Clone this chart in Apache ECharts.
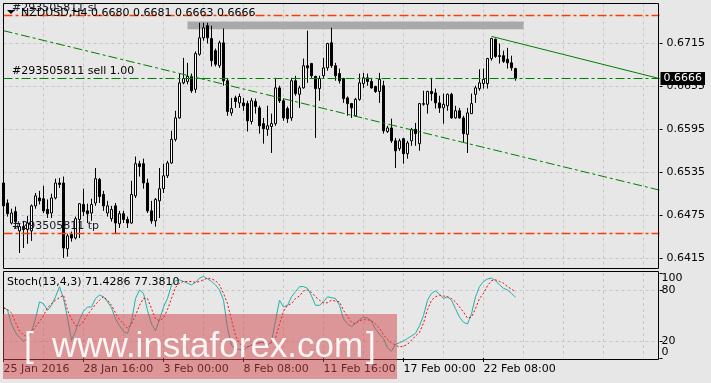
<!DOCTYPE html>
<html><head><meta charset="utf-8">
<script src="https://cdn.jsdelivr.net/npm/echarts@6/dist/echarts.min.js"></script>
<style>html,body{margin:0;padding:0;background:#e7e7e7;}#c{width:711px;height:383px;}</style>
</head><body><div id="c"></div>
<script>
// ---- data (NZDUSD H4) ----
const symbol = 'NZDUSD,H4';
const opens = [.6520,.6492,.6464,.6480,.6453,.6459,.6455,.6453,.6488,.6499,
.6498,.6483,.6478,.6499,.6520,.6520,.6428,.6448,.6443,.6469,
.6490,.6481,.6478,.6492,.6525,.6504,.6478,.6470,.6488,.6463,
.6477,.6469,.6464,.6502,.6547,.6547,.6520,.6481,.6467,.6495,
.6512,.6530,.6548,.6581,.6611,.6660,.6662,.6669,.6651,.6700,
.6723,.6740,.6722,.6705,.6684,.6716,.6663,.6618,.6639,.6632,
.6632,.6631,.6606,.6634,.6625,.6603,.6595,.6599,.6603,.6653,
.6635,.6624,.6611,.6663,.6644,.6653,.6684,.6687,.6669,.6652,
.6670,.6681,.6716,.6684,.6673,.6666,.6639,.6631,.6614,.6637,
.6659,.6667,.6662,.6655,.6648,.6656,.6592,.6597,.6579,.6568,
.6582,.6561,.6579,.6595,.6575,.6630,.6630,.6648,.6646,.6632,
.6625,.6628,.6644,.6611,.6621,.6611,.6588,.6617,.6644,.6652,
.6659,.6659,.6694,.6721,.6698,.6698,.6693,.6688,.6680];
const closes = [.6488,.6477,.6478,.6466,.6459,.6455,.6464,.6488,.6502,.6495,
.6481,.6477,.6499,.6520,.6518,.6429,.6446,.6443,.6470,.6491,
.6480,.6477,.6490,.6526,.6501,.6488,.6488,.6483,.6464,.6477,
.6469,.6464,.6504,.6547,.6543,.6520,.6481,.6467,.6497,.6512,
.6530,.6548,.6581,.6611,.6660,.6666,.6669,.6649,.6701,.6723,
.6737,.6723,.6691,.6686,.6716,.6663,.6620,.6624,.6634,.6641,
.6628,.6607,.6635,.6627,.6600,.6596,.6600,.6603,.6653,.6635,
.6611,.6610,.6663,.6645,.6653,.6684,.6681,.6670,.6652,.6666,
.6681,.6715,.6684,.6670,.6663,.6638,.6631,.6625,.6637,.6660,
.6667,.6662,.6653,.6648,.6665,.6593,.6597,.6579,.6565,.6579,
.6561,.6576,.6595,.6589,.6631,.6631,.6648,.6645,.6632,.6625,
.6630,.6644,.6611,.6621,.6611,.6589,.6618,.6631,.6653,.6660,
.6665,.6694,.6722,.6697,.6697,.6690,.6688,.6681,.6666];
const lows = [.6481,.6473,.6462,.6456,.6422,.6429,.6435,.6439,.6484,.6490,
.6478,.6471,.6471,.6497,.6513,.6415,.6417,.6438,.6441,.6443,
.6474,.6464,.6467,.6488,.6492,.6481,.6473,.6466,.6449,.6457,
.6464,.6457,.6463,.6499,.6529,.6512,.6478,.6463,.6459,.6471,
.6506,.6527,.6547,.6578,.6610,.6658,.6658,.6646,.6646,.6698,
.6719,.6715,.6683,.6683,.6681,.6656,.6614,.6614,.6625,.6625,
.6621,.6592,.6602,.6617,.6589,.6575,.6586,.6562,.6600,.6632,
.6607,.6604,.6607,.6642,.6625,.6652,.6660,.6667,.6583,.6635,
.6667,.6677,.6681,.6663,.6659,.6632,.6614,.6611,.6613,.6635,
.6653,.6656,.6652,.6646,.6632,.6589,.6590,.6576,.6541,.6565,
.6547,.6554,.6572,.6572,.6565,.6628,.6617,.6635,.6624,.6618,
.6603,.6621,.6610,.6610,.6610,.6576,.6562,.6617,.6632,.6649,
.6652,.6652,.6691,.6695,.6687,.6688,.6680,.6677,.6663];
const highs = [.6526,.6497,.6484,.6487,.6464,.6467,.6474,.6490,.6506,.6509,
.6516,.6497,.6505,.6526,.6527,.6529,.6449,.6452,.6473,.6492,
.6512,.6491,.6498,.6541,.6527,.6509,.6495,.6488,.6492,.6481,
.6481,.6473,.6523,.6557,.6551,.6554,.6526,.6495,.6499,.6541,
.6547,.6551,.6593,.6621,.6673,.6695,.6688,.6673,.6704,.6744,
.6744,.6744,.6740,.6708,.6719,.6736,.6666,.6639,.6642,.6645,
.6639,.6635,.6639,.6638,.6628,.6611,.6628,.6617,.6667,.6656,
.6638,.6627,.6667,.6670,.6656,.6694,.6733,.6688,.6670,.6670,
.6695,.6716,.6737,.6688,.6680,.6667,.6641,.6632,.6639,.6673,
.6674,.6673,.6667,.6656,.6674,.6663,.6600,.6610,.6583,.6582,
.6583,.6579,.6597,.6604,.6632,.6649,.6649,.6667,.6652,.6642,
.6645,.6645,.6646,.6628,.6625,.6614,.6625,.6645,.6656,.6679,
.6680,.6695,.6723,.6722,.6715,.6705,.6709,.6698,.6681];
const stochK = [60,56,40,30,24,20,22,31,46,66,
64,56,62,72,84,70,47,21,31,45,
55,60,60,70,74,72,66,59,46,38,
31,29,43,70,80,76,56,40,32,45,
60,70,86,91,92,90,88,86,89,94,
96,93,90,86,80,68,35,15,11,10,
9,13,15,17,18,19,15,19,44,68,
60,62,72,78,84,84,82,73,62,62,
66,72,71,70,62,46,40,37,41,45,
48,47,43,34,28,23,12,8,16,18,
20,23,26,29,38,50,68,76,79,75,
70,72,68,58,48,42,40,52,72,84,
90,93,94,91,86,82,80,76,71.4286];
const stochD = [59,57,53,42,32,27,25,30,37,43,
50,59,64,68,71,74,56,46,38,38,
43,51,57,63,68,72,68,62,53,45,
40,35,40,50,62,70,70,58,46,44,
47,57,70,83,88,90,90,90,89,90,
92,94,93,91,86,76,64,45,26,17,
14,13,15,17,18,18,17,18,23,40,
55,62,64,70,73,79,80,77,72,68,
65,65,68,67,66,56,49,42,40,44,
45,45,44,40,35,27,22,18,15,13,
14,16,21,26,30,41,57,68,72,74,
73,72,70,66,60,54,47,48,58,70,
76,85,91,92,90,88,84,81,77.3810];
const priceTicks = [0.6415,0.6475,0.6535,0.6595,0.6655,0.6715];
const stochTicks = [0,20,80,100];
const stochLevels = [20,80];
const orderId = '#293505811';
const sellPrice = 0.6666, slPrice = 0.6754, tpPrice = 0.6449;
const trendUpper = [[122,0.6725],[164,0.6666]];
const trendLower = [[0,0.6733],[164,0.6510]];
const zoneBox = [[46,0.6746],[130,0.6735]];
const labelEvery = 20, lastLabelIdx = 120, barsShown = 165;

// ---- categories: H4 bars, weekends skipped ----
const MONTHS=['Jan','Feb','Mar','Apr','May','Jun','Jul','Aug','Sep','Oct','Nov','Dec'];
const cats=[]; let t=Date.UTC(2016,0,25,8);
while(cats.length<barsShown){const d=new Date(t);const wd=d.getUTCDay();
 if(wd!==0&&wd!==6){cats.push(d.getUTCDate()+' '+MONTHS[d.getUTCMonth()]+' '+d.getUTCFullYear()+' '+String(d.getUTCHours()).padStart(2,'0')+':00');}
 t+=4*3600e3;}
const candles = opens.map((o,i)=>[o,closes[i],lows[i],highs[i]]);
const n = opens.length-1;
const lastIdx = barsShown-1;
const f4 = v=>v.toFixed(4);
const FONT='"DejaVu Sans"';
const grayGrid={color:'#c6c6c6',type:[3,3],width:1};
const lblInt=(i)=> i%labelEvery===0 && i<=lastLabelIdx;
const dashDot=[9,3,3,3];
const hLine=(p,style,extra)=>[Object.assign({coord:[0,p],lineStyle:style},extra||{}),{coord:[lastIdx,p],lineStyle:style}];

const chart=echarts.init(document.getElementById('c'),null,{renderer:'canvas'});
chart.setOption({
 animation:false,
 backgroundColor:'#e7e7e7',
 textStyle:{fontFamily:FONT},
 grid:[{left:3.5,top:3.5,width:656,height:266},{left:3.5,top:273,width:656,height:85}],
 xAxis:[
  {type:'category',gridIndex:0,data:cats,boundaryGap:false,axisLine:{show:false},axisTick:{show:false},axisLabel:{show:false},
   splitLine:{show:true,interval:9,lineStyle:grayGrid}},
  {type:'category',gridIndex:1,data:cats,boundaryGap:false,axisLine:{show:false},
   axisTick:{show:true,interval:lblInt,length:4,lineStyle:{color:'#000'}},
   axisLabel:{interval:lblInt,align:'left',margin:6,fontSize:11,color:'#000',fontFamily:FONT,hideOverlap:false,
     formatter:(v,i)=>{const p=v.split(' ');return i===0?p[0]+' '+p[1]+' '+p[2]:p[0]+' '+p[1]+' '+p[3];}},
   splitLine:{show:true,interval:9,lineStyle:grayGrid}}
 ],
 yAxis:[
  {type:'value',gridIndex:0,position:'right',min:0.6399,max:0.6771,axisLine:{show:false},
   axisTick:{show:true,customValues:priceTicks,length:3,lineStyle:{color:'#000'}},
   axisLabel:{customValues:priceTicks,formatter:v=>f4(v),margin:7,fontSize:11,color:'#000',fontFamily:FONT},
   splitLine:{show:false}},
  {type:'value',gridIndex:1,position:'right',min:0,max:100,axisLine:{show:false},
   axisTick:{show:true,customValues:stochTicks,length:3,lineStyle:{color:'#000'}},
   axisLabel:{customValues:stochTicks,margin:2,fontSize:11,color:'#000',fontFamily:FONT,
     showMinLabel:true,showMaxLabel:true,hideOverlap:false,
     verticalAlignMinLabel:'bottom',verticalAlignMaxLabel:'top',
     formatter:v=>String(v)},
   splitLine:{show:false}}
 ],
 series:[
  {type:'line',xAxisIndex:0,yAxisIndex:0,data:[],silent:true,
   markLine:{silent:true,symbol:['none','none'],z:1,label:{show:false},
     data:priceTicks.map(v=>hLine(v,grayGrid))}},
  {type:'candlestick',xAxisIndex:0,yAxisIndex:0,data:candles,barWidth:2,
   itemStyle:{color:'#ffffff',color0:'#000000',borderColor:'#000000',borderColor0:'#000000',borderWidth:1},
   markArea:{silent:true,itemStyle:{color:'#a9a9a9'},
     data:[[{coord:zoneBox[0]},{coord:zoneBox[1]}]]},
   markLine:{silent:true,symbol:['none','none'],label:{show:false},
     data:[
      [{coord:trendUpper[0],lineStyle:{color:'#008000',type:'solid',width:1}},{coord:trendUpper[1]}],
      [{coord:trendLower[0],lineStyle:{color:'#008000',type:dashDot,width:1}},{coord:trendLower[1]}],
      hLine(sellPrice,{color:'#008000',type:dashDot,width:1}),
      hLine(slPrice,{color:'#ff3c00',type:dashDot,width:1.3,opacity:1}),
      hLine(tpPrice,{color:'#ff3c00',type:dashDot,width:1.3,opacity:1}),
      hLine(closes[n],{color:'rgba(0,0,0,0)',width:1},
       {label:{show:true,position:'end',distance:1,formatter:()=>f4(closes[n]),color:'#fff',backgroundColor:'#000',
              padding:[1,3,0,3],fontSize:11,fontFamily:FONT,lineHeight:12}})
     ]}},
  {type:'line',xAxisIndex:1,yAxisIndex:1,data:stochK,showSymbol:false,smooth:false,
   lineStyle:{color:'#20b2aa',width:1},
   markLine:{silent:true,symbol:['none','none'],z:1,label:{show:false},
     data:stochLevels.map(v=>hLine(v,grayGrid))}},
  {type:'line',xAxisIndex:1,yAxisIndex:1,data:stochD,showSymbol:false,smooth:false,
   lineStyle:{color:'#ff0000',width:1,type:[2,2]}}
 ],
 graphic:[
  {type:'rect',z:40,silent:true,shape:{x:3.5,y:3.5,width:655,height:265},style:{fill:'none',stroke:'#000',lineWidth:1}},
  {type:'rect',z:40,silent:true,shape:{x:3.5,y:271.5,width:655,height:88},style:{fill:'none',stroke:'#000',lineWidth:1}},
  {type:'polygon',z:45,silent:true,shape:{points:[[7,10],[15,10],[11,14]]},style:{fill:'#000'}},
  {type:'text',z:45,silent:true,x:12,y:8,style:{text:orderId+' sl',font:'11px '+FONT,fill:'#1a1a2a',verticalAlign:'middle'}},
  {type:'text',z:45,silent:true,x:21,y:13,style:{text:symbol+' '+[opens[n],highs[n],lows[n],closes[n]].map(f4).join(' '),font:'11px '+FONT,fill:'#000',verticalAlign:'middle'}},
  {type:'text',z:45,silent:true,x:12,y:71,style:{text:orderId+' sell 1.00',font:'11px '+FONT,fill:'#000',verticalAlign:'middle'}},
  {type:'text',z:45,silent:true,x:12,y:226,style:{text:orderId+' tp',font:'11px '+FONT,fill:'#1a1a2a',verticalAlign:'middle'}},
  {type:'text',z:45,silent:true,x:7,y:282,style:{text:'Stoch(13,4,3) '+stochK[n].toFixed(4)+' '+stochD[n].toFixed(4),font:'11px '+FONT,fill:'#000',verticalAlign:'middle'}},
  {type:'rect',z:50,silent:true,shape:{x:3,y:314,width:394,height:65},style:{fill:'rgba(212,70,74,0.5)'}},
  {type:'text',z:51,silent:true,x:24,y:347,style:{text:'[',font:'35px "Liberation Sans"',fill:'rgba(255,255,255,0.9)',verticalAlign:'middle'}},
  {type:'text',z:51,silent:true,x:52,y:347,style:{text:'www.instaforex.com',font:'35px "Liberation Sans"',fill:'rgba(255,255,255,0.9)',verticalAlign:'middle'}},
  {type:'text',z:51,silent:true,x:366,y:347,style:{text:']',font:'35px "Liberation Sans"',fill:'rgba(255,255,255,0.9)',verticalAlign:'middle'}}
 ]
});
</script></body></html>
